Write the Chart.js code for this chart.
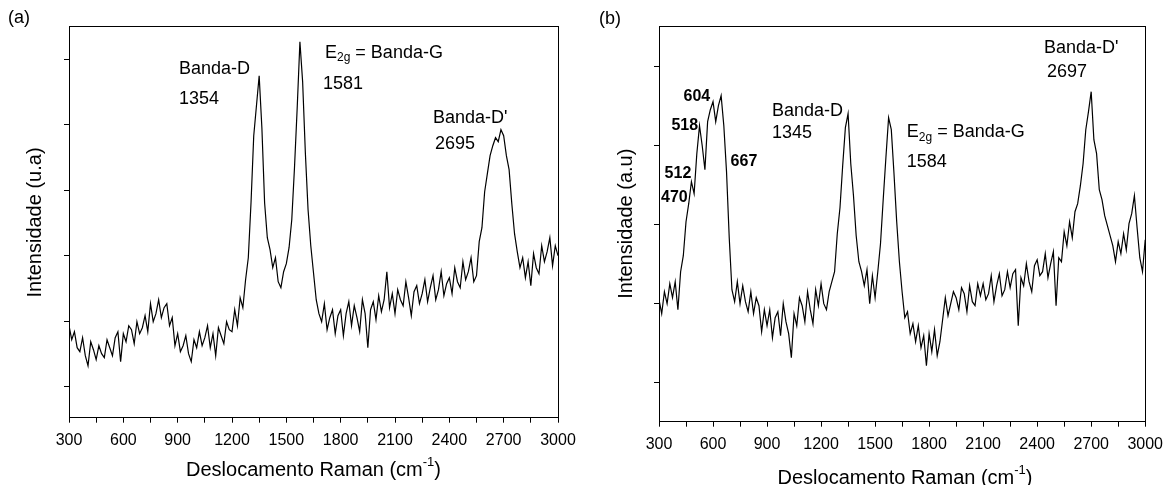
<!DOCTYPE html>
<html>
<head>
<meta charset="utf-8">
<script src="https://cdn.jsdelivr.net/npm/chart.js@4.4.1/dist/chart.umd.min.js"></script>
<style>
  html, body { margin: 0; padding: 0; background: #fff; }
  body { width: 1171px; height: 485px; position: relative; overflow: hidden; }
  canvas { position: absolute; top: 0; }
  #chartA { left: 0; width: 590px; height: 485px; }
  #chartB { left: 590px; width: 581px; height: 485px; }
</style>
</head>
<body>
<canvas id="chartA" width="590" height="485"></canvas>
<canvas id="chartB" width="581" height="485"></canvas>
<script>
// Deslocamento Raman (cm-1), mesmo eixo para os dois espectros
const ramanShift = [
  300,315,330,345,360,375,390,405,420,435,
  450,465,480,495,510,525,540,555,570,585,
  600,615,630,645,660,675,690,705,720,735,
  750,765,780,795,810,825,840,855,870,885,
  900,915,930,945,960,975,990,1005,1020,1035,
  1050,1065,1080,1095,1110,1125,1140,1155,1170,1185,
  1200,1215,1230,1245,1260,1275,1290,1305,1320,1335,
  1350,1365,1380,1395,1410,1425,1440,1455,1470,1485,
  1500,1515,1530,1545,1560,1575,1590,1605,1620,1635,
  1650,1665,1680,1695,1710,1725,1740,1755,1770,1785,
  1800,1815,1830,1845,1860,1875,1890,1905,1920,1935,
  1950,1965,1980,1995,2010,2025,2040,2055,2070,2085,
  2100,2115,2130,2145,2160,2175,2190,2205,2220,2235,
  2250,2265,2280,2295,2310,2325,2340,2355,2370,2385,
  2400,2415,2430,2445,2460,2475,2490,2505,2520,2535,
  2550,2565,2580,2595,2610,2625,2640,2655,2670,2685,
  2700,2715,2730,2745,2760,2775,2790,2805,2820,2835,
  2850,2865,2880,2895,2910,2925,2940,2955,2970,2985,
  3000
];

// Espectro (a) - intensidade em u.a.
const intensityA = [
  92,78,86,70,66,80,62,52,76,68,
  58,72,64,60,78,70,62,80,86,56,
  84,76,92,88,74,96,84,90,102,86,
  114,96,104,118,100,110,114,92,100,72,
  84,66,72,82,64,56,78,70,86,72,
  80,92,70,84,62,90,82,74,96,88,
  86,108,92,120,110,138,160,215,282,312,
  342,290,215,180,168,150,160,136,130,146,
  154,170,198,250,310,376,336,265,208,172,
  145,118,104,96,114,88,100,108,84,102,
  108,82,104,116,92,112,100,86,118,104,
  70,108,116,98,122,106,118,146,110,124,
  104,128,118,112,136,120,102,126,132,114,
  124,138,116,130,142,118,128,146,122,134,
  140,124,150,136,130,156,138,146,160,136,
  142,176,190,226,244,262,272,280,276,288,
  282,262,248,214,184,166,150,160,140,156,
  132,164,150,144,172,156,166,180,152,172,
  162
];

// Espectro (b) - intensidade em u.a.
const intensityB = [
  122,108,130,118,138,124,140,112,150,166,
  200,218,240,228,268,296,276,252,300,312,
  320,300,316,326,296,250,184,132,120,140,
  118,136,120,110,130,108,124,116,90,112,
  96,112,84,104,110,86,118,100,88,64,
  108,96,124,116,100,130,112,98,132,116,
  138,118,112,130,140,150,188,214,256,294,
  308,258,226,186,160,150,136,152,118,146,
  124,150,178,222,264,304,292,248,200,160,
  130,104,110,88,98,80,96,74,86,56,
  88,70,92,66,80,102,124,106,118,130,
  124,112,134,128,110,136,120,116,138,126,
  138,122,128,146,120,136,148,126,132,150,
  134,148,152,96,144,136,158,140,130,156,
  162,146,150,168,144,158,170,116,164,160,
  190,176,200,184,210,218,236,258,292,310,
  330,282,268,232,222,206,196,186,176,160,
  180,168,188,172,198,208,226,194,164,150,
  182
];

// Marcas do eixo x (rotuladas e intermediarias)
const xMajorTicks = [300, 600, 900, 1200, 1500, 1800, 2100, 2400, 2700, 3000];
const xMinorTicks = [450, 750, 1050, 1350, 1650, 1950, 2250, 2550, 2850];
// Marcas do eixo y (sem rotulos)
const yTicksA = [31, 96.5, 162, 227.5, 293, 358.5];
const yTicksB = [39, 118, 197, 276, 355];

const FONT = '"Liberation Sans", Arial, Helvetica, sans-serif';

// Texto com sub/sobrescrito
function drawRich(ctx, parts, x, y, align) {
    let w = 0;
    parts.forEach(p => {
        ctx.font = (p.bold ? 'bold ' : '') + p.size + 'px ' + FONT;
        w += ctx.measureText(p.text).width;
    });
    let cx = align === 'center' ? x - w / 2 : x;
    parts.forEach(p => {
        ctx.font = (p.bold ? 'bold ' : '') + p.size + 'px ' + FONT;
        ctx.fillText(p.text, cx, y + (p.dy || 0));
        cx += ctx.measureText(p.text).width;
    });
}

const textPlugin = {
    id: 'ramanText',
    afterDraw(chart, args, opts) {
        const ctx = chart.ctx;
        const a = chart.chartArea;
        ctx.save();
        // moldura completa
        ctx.strokeStyle = '#000';
        ctx.lineWidth = 1;
        const al = v => Math.round(v - 0.5) + 0.5;
        ctx.strokeRect(al(a.left), al(a.top), al(a.right) - al(a.left), al(a.bottom) - al(a.top));

        ctx.fillStyle = '#000';
        ctx.textBaseline = 'middle';
        ctx.textAlign = 'left';

        // rotulo do painel
        drawRich(ctx, [{ text: opts.panel, size: 18 }], opts.panelX, opts.panelY);

        // titulo do eixo x
        drawRich(ctx, [
            { text: 'Deslocamento Raman (cm', size: 20 },
            { text: '-1', size: 13, dy: -8 },
            { text: ')', size: 20 }
        ], opts.xTitleX, opts.xTitleY, 'center');

        // titulo do eixo y (girado)
        ctx.save();
        ctx.translate(opts.yTitleX, opts.yTitleY);
        ctx.rotate(-Math.PI / 2);
        ctx.textAlign = 'center';
        ctx.font = '20px ' + FONT;
        ctx.fillText(opts.yTitle, 0, 0);
        ctx.restore();

        // anotacoes dos picos
        opts.notes.forEach(n => drawRich(ctx, n.parts, n.x, n.y));
        ctx.restore();
    }
};

function makeChart(id, series, cfg) {
    const el = document.getElementById(id);
    return new Chart(el, {
        type: 'line',
        data: {
            datasets: [{
                data: ramanShift.map((x, i) => ({ x: x, y: series[i] })),
                borderColor: '#000',
                borderWidth: 1.2,
                pointRadius: 0,
                tension: 0,
                fill: false
            }]
        },
        options: {
            responsive: false,
            animation: false,
            devicePixelRatio: 1,
            events: [],
            layout: { padding: cfg.padding },
            plugins: {
                legend: { display: false },
                tooltip: { enabled: false },
                ramanText: cfg.text
            },
            scales: {
                x: {
                    type: 'linear',
                    min: 300,
                    max: 3000,
                    afterBuildTicks: s => {
                        s.ticks = xMajorTicks.concat(xMinorTicks).sort((p, q) => p - q).map(v => ({ value: v }));
                    },
                    afterFit: s => { s.height = cfg.xHeight; },
                    ticks: {
                        autoSkip: false,
                        maxRotation: 0,
                        padding: 8,
                        color: '#000',
                        font: { family: FONT, size: 16 },
                        callback: v => xMajorTicks.includes(v) ? String(v) : ''
                    },
                    grid: { drawOnChartArea: false, drawTicks: true, tickLength: 5, color: '#000', lineWidth: 1 },
                    border: { display: false }
                },
                y: {
                    type: 'linear',
                    min: 0,
                    max: cfg.yMax,
                    afterBuildTicks: s => { s.ticks = cfg.yTicks.map(v => ({ value: v })); },
                    afterFit: s => { s.width = 69; },
                    ticks: { callback: () => '' },
                    grid: { drawOnChartArea: false, drawTicks: true, tickLength: 5, color: '#000', lineWidth: 1 },
                    border: { display: false }
                }
            }
        },
        plugins: [textPlugin]
    });
}

makeChart('chartA', intensityA, {
    padding: { left: 0, top: 26.5, right: 32, bottom: 0 },
    xHeight: 67.3,
    yMax: 391.2,
    yTicks: yTicksA,
    text: {
        panel: '(a)', panelX: 8, panelY: 18,
        xTitleX: 313.5, xTitleY: 470,
        yTitle: 'Intensidade (u.a)', yTitleX: 35.5, yTitleY: 222.5,
        notes: [
            { x: 179, y: 69.5, parts: [{ text: 'Banda-D', size: 18 }] },
            { x: 179, y: 99.5, parts: [{ text: '1354', size: 18 }] },
            { x: 325, y: 53, parts: [{ text: 'E', size: 18 }, { text: '2g', size: 12, dy: 5 }, { text: ' = Banda-G', size: 18 }] },
            { x: 323, y: 84.5, parts: [{ text: '1581', size: 18 }] },
            { x: 433, y: 118, parts: [{ text: "Banda-D'", size: 18 }] },
            { x: 435, y: 144.5, parts: [{ text: '2695', size: 18 }] }
        ]
    }
});

makeChart('chartB', intensityB, {
    padding: { left: 0, top: 26, right: 20.5, bottom: 0 },
    xHeight: 63.3,
    yMax: 395.7,
    yTicks: yTicksB,
    text: {
        panel: '(b)', panelX: 9, panelY: 19,
        xTitleX: 315, xTitleY: 478,
        yTitle: 'Intensidade (a.u)', yTitleX: 36, yTitleY: 223.7,
        notes: [
            { x: 93.5, y: 96.8, parts: [{ text: '604', size: 16, bold: true }] },
            { x: 81.4, y: 125.7, parts: [{ text: '518', size: 16, bold: true }] },
            { x: 74.6, y: 173.9, parts: [{ text: '512', size: 16, bold: true }] },
            { x: 71, y: 197.2, parts: [{ text: '470', size: 16, bold: true }] },
            { x: 140.6, y: 161.6, parts: [{ text: '667', size: 16, bold: true }] },
            { x: 182, y: 111.4, parts: [{ text: 'Banda-D', size: 18 }] },
            { x: 182, y: 133.3, parts: [{ text: '1345', size: 18 }] },
            { x: 316.8, y: 132.3, parts: [{ text: 'E', size: 18 }, { text: '2g', size: 12, dy: 5 }, { text: ' = Banda-G', size: 18 }] },
            { x: 316.8, y: 161.6, parts: [{ text: '1584', size: 18 }] },
            { x: 453.9, y: 47.6, parts: [{ text: "Banda-D'", size: 18 }] },
            { x: 457, y: 72.5, parts: [{ text: '2697', size: 18 }] }
        ]
    }
});
</script>
</body>
</html>
